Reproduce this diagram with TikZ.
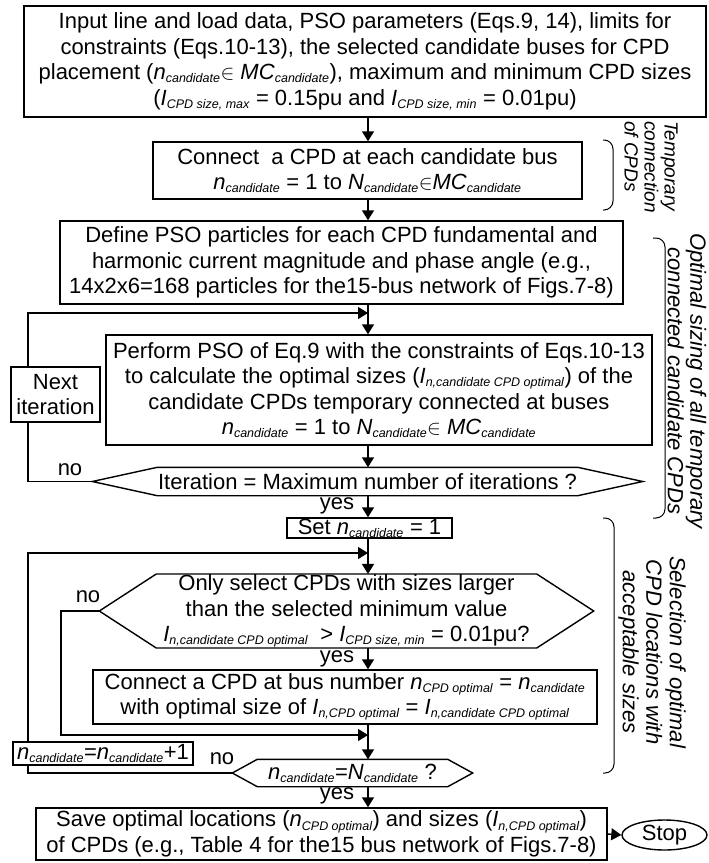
\documentclass[tikz,border=0pt]{standalone}
\usepackage{fontspec}
\setmainfont{Liberation Sans}
\usepackage{tikz}
\usetikzlibrary{shapes}
\usetikzlibrary{arrows.meta}

\newcommand{\subit}[1]{\textsubscript{\fontsize{12.5}{12.5}\selectfont\itshape #1}}
\newcommand{\ncand}{\textit{n}\subit{candidate}}

\begin{document}
\begin{tikzpicture}[x=1pt,y=-1pt,line width=1.4pt,>={Triangle[length=10pt,width=12pt]}]
    \tikzstyle{every node}=[font=\fontsize{22}{25.5}\selectfont,inner sep=0pt,align=center]
    \tikzstyle{stepbox}=[rectangle,draw,fill=white]
    \tikzstyle{testbox}=[rectangle]
    \tikzstyle{endbox}=[ellipse,draw,minimum width=85pt,minimum height=30pt]
    \tikzstyle{sidenote}=[rotate=-90,font=\itshape\fontsize{22}{22.5}\selectfont]
    \useasboundingbox (0,0) rectangle (709,863);
    \coordinate (sp) at (368,0);
    \coordinate (lx) at (28,0);
    \coordinate (lxin) at (61,0);
    \coordinate (j1) at (368,313);
    \coordinate (j2) at (368,553);
    \coordinate (j3) at (368,735);
    % main chain
    \node[stepbox,minimum width=682pt,minimum height=111pt] (input) at (365,61.5)
      {Input line and load data, PSO parameters (Eqs.9, 14), limits for\\
       constraints (Eqs.10-13), the selected candidate buses for CPD\\
       placement (\ncand$\in$ \textit{MC}\subit{candidate}), maximum and minimum CPD sizes\\
       (\textit{I}\subit{CPD size, max} = 0.15pu and \textit{I}\subit{CPD size, min} = 0.01pu)};
    \node[stepbox,minimum width=429pt,minimum height=57pt] (tempcon) at (367.5,170.5)
      {Connect\ \ a CPD at each candidate bus\\
       \ncand{} = 1 to \textit{N}\subit{candidate}$\in$\textit{MC}\subit{candidate}};
    \node[stepbox,minimum width=563pt,minimum height=83pt] (particles) at (341.5,262.5)
      {Define PSO particles for each CPD fundamental and\\
       harmonic current magnitude and phase angle (e.g.,\\
       14x2x6=168 particles for the15-bus network of Figs.7-8)};
    \node[stepbox,minimum width=546pt,minimum height=110pt] (pso) at (379,390)
      {Perform PSO of Eq.9 with the constraints of Eqs.10-13\\
       to calculate the optimal sizes (\textit{I}\subit{n,candidate CPD optimal}) of the\\
       candidate CPDs temporary connected at buses\\
       \ncand{} = 1 to \textit{N}\subit{candidate}$\in$ \textit{MC}\subit{candidate}};
    \node[testbox,minimum width=549pt,minimum height=27pt] (itertest) at (367.5,481.5)
      {Iteration = Maximum number of iterations ?};
    \node[stepbox,minimum width=165pt,minimum height=20pt] (setn) at (369.5,528)
      {Set \ncand{} = 1};
    \node[testbox,minimum width=493pt,minimum height=70pt] (sizetest) at (346.5,611)
      {Only select CPDs with sizes larger\\
       than the selected minimum value\\
       \textit{I}\subit{n,candidate CPD optimal}\ \ > \textit{I}\subit{CPD size, min} = 0.01pu?};
    \node[stepbox,minimum width=504pt,minimum height=54pt] (connect) at (345,697)
      {Connect a CPD at bus number \textit{n}\subit{CPD optimal} = \ncand\\
       with optimal size of \textit{I}\subit{n,CPD optimal} = \textit{I}\subit{n,candidate CPD optimal}};
    \node[testbox,minimum width=239pt,minimum height=26pt] (lasttest) at (352.5,773)
      {\ncand=\textit{N}\subit{candidate} ?};
    \node[stepbox,minimum width=571pt,minimum height=52pt] (save) at (321.5,834)
      {Save optimal locations (\textit{n}\subit{CPD optimal}) and sizes (\textit{I}\subit{n,CPD optimal})\\
       of CPDs (e.g., Table 4 for the15 bus network of Figs.7-8)};
    \node[endbox] (stop) at (664.5,835) {Stop};
    % decision outlines
    \draw (itertest.west) -- ([xshift=65pt]itertest.north west) -- ([xshift=-65pt]itertest.north east)
      -- (itertest.east) -- ([xshift=-65pt]itertest.south east) -- ([xshift=65pt]itertest.south west) -- cycle;
    \draw (sizetest.west) -- ([xshift=57pt]sizetest.north west) -- ([xshift=-57pt]sizetest.north east)
      -- (sizetest.east) -- ([xshift=-57pt]sizetest.south east) -- ([xshift=57pt]sizetest.south west) -- cycle;
    \draw (lasttest.west) -- ([xshift=25pt]lasttest.north west) -- ([xshift=-25pt]lasttest.north east)
      -- (lasttest.east) -- ([xshift=-25pt]lasttest.south east) -- ([xshift=25pt]lasttest.south west) -- cycle;
    % flow
    \draw[->] (input.south -| sp) -- (tempcon.north -| sp);
    \draw[->] (tempcon.south -| sp) -- (particles.north -| sp);
    \draw[->] (particles.south -| sp) -- (pso.north -| sp);
    \draw[->] (pso.south -| sp) -- (itertest.north -| sp);
    \draw[->] (itertest.south -| sp) -- (setn.north -| sp);
    \draw[->] (setn.south -| sp) -- (sizetest.north -| sp);
    \draw[->] (sizetest.south -| sp) -- (connect.north -| sp);
    \draw[->] (connect.south -| sp) -- (lasttest.north -| sp);
    \draw[->] (lasttest.south -| sp) -- (save.north -| sp);
    \draw[->] (save.east) -- (stop.west);
    % loops back
    \draw[->] (itertest.west) -- (itertest.west -| lx) |- (j1);
    \draw[->] (lasttest.west) -- (lasttest.west -| lx) |- (j2);
    \draw[->] (sizetest.west) -- (sizetest.west -| lxin) |- (j3);
    \node[stepbox,minimum width=89pt,minimum height=55pt] (nextit) at (55.5,394.5) {Next\\iteration};
    \node[stepbox,minimum width=180pt,minimum height=23pt] (incr) at (103,753.5)
      {\ncand=\ncand+1};
    % yes / no
    \node (no1) at (70,470) {no};
    \node (no2) at (88,597) {no};
    \node (no3) at (222,759) {no};
    \node (yes1) at (337,506) {yes};
    \node (yes2) at (337,659) {yes};
    \node (yes3) at (337,796) {yes};
    % side brackets
    \draw[line width=1pt,rounded corners=9pt] (603,140) -| (613,210) -- (603,210);
    \draw[line width=1pt,rounded corners=9pt] (653,238) -| (665,518) -- (653,518);
    \draw[line width=1pt,rounded corners=9pt] (603,518) -| (614,773) -- (603,773);
    \node[sidenote,align=left,font=\itshape\fontsize{19}{20}\selectfont] (tempnote) at (651,167) {Temporary\\connection\\of CPDs};
    \node[sidenote] (sizenote) at (687,381) {Optimal sizing of all temporary\\connected candidate CPDs};
    \node[sidenote,font=\itshape\fontsize{22}{23.5}\selectfont] (selnote) at (652,652) {Selection of optimal\\CPD locations with\\acceptable sizes};
\end{tikzpicture}
\end{document}
